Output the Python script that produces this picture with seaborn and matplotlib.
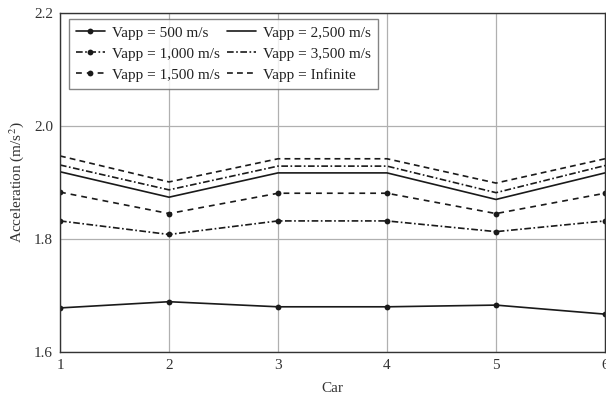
import matplotlib
matplotlib.use("Agg")
import matplotlib.pyplot as plt
import seaborn as sns
import pandas as pd

cars = [1, 2, 3, 4, 5, 6]
labels = ["Vapp = 500 m/s", "Vapp = 1,000 m/s", "Vapp = 1,500 m/s",
          "Vapp = 2,500 m/s", "Vapp = 3,500 m/s", "Vapp = Infinite"]
v500 = [1.678, 1.689, 1.680, 1.680, 1.683, 1.667]
v1000 = [1.832, 1.808, 1.832, 1.832, 1.813, 1.832]
v1500 = [1.883, 1.845, 1.881, 1.881, 1.845, 1.881]
v2500 = [1.919, 1.874, 1.917, 1.917, 1.870, 1.917]
v3500 = [1.931, 1.887, 1.929, 1.929, 1.882, 1.930]
vinf = [1.947, 1.901, 1.942, 1.942, 1.899, 1.942]
series = [v500, v1000, v1500, v2500, v3500, vinf]

sns.set_theme(style="white")
plt.rcParams["font.family"] = ["Liberation Serif", "DejaVu Serif"]
plt.rcParams["mathtext.fontset"] = "stix"

fig = plt.figure(figsize=(6.06, 3.99), dpi=100)
ax = fig.add_axes([60 / 606, 47 / 399, 545 / 606, 339 / 399])

styles = [
    ("-", "o"),
    ((0, (4, 1.5, 1, 1.5)), "o"),
    ((0, (3.5, 3)), "o"),
    ("-", None),
    ((0, (4, 1.5, 1, 1.5)), None),
    ((0, (3.5, 2.5)), None),
]
col = "#1a1a1a"
for lab, vals, (ls, mk) in zip(labels, series, styles):
    df = pd.DataFrame({"Car": cars, "Acc": vals})
    sns.lineplot(data=df, x="Car", y="Acc", ax=ax, color=col, linewidth=1.2,
                 linestyle=ls, marker=mk, markersize=4.2 if mk else 0,
                 markeredgewidth=0, label=lab)

fs = 11
ax.set_xlim(1, 6)
ax.set_ylim(1.6, 2.2)
ax.set_xticks(cars)
ax.set_yticks([1.6, 1.8, 2.0, 2.2])
ax.set_yticklabels(["1.6", "1.8", "2.0", "2.2"])
ax.grid(True, color="#b0b0b0", linewidth=0.9)
ax.tick_params(axis="both", labelsize=fs, colors="#333333", length=3,
               direction="in", pad=5)
for s in ax.spines.values():
    s.set_color("#333333")
    s.set_linewidth(1.0)
ax.set_xlabel("Car", fontsize=fs, color="#333333", labelpad=7)
ax.set_ylabel("Acceleration (m/s$^2$)", fontsize=fs, color="#333333", labelpad=6)

leg = ax.legend(loc="upper left", ncol=2, fontsize=fs, frameon=True,
                fancybox=False, edgecolor="#666666", borderpad=0.45,
                handlelength=1.9, handletextpad=0.45, columnspacing=0.5,
                labelspacing=0.48, borderaxespad=0.0,
                bbox_to_anchor=(9 / 545, 1 - 6 / 339))
leg.get_frame().set_linewidth(1.0)
for t in leg.get_texts():
    t.set_color("#222222")

fig.savefig("out.png", dpi=100)
